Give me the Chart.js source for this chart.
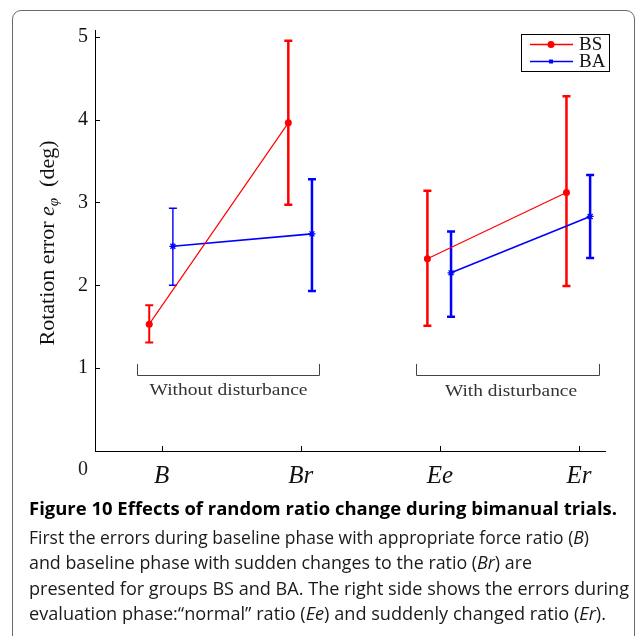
<!DOCTYPE html>
<html>
<head>
<meta charset="utf-8">
<script src="https://cdn.jsdelivr.net/npm/chart.js@4/dist/chart.umd.min.js"></script>
<style>
  html, body { margin:0; padding:0; background:#fff; }
  body { width:639px; height:636px; position:relative; overflow:hidden; }
  #frame { position:absolute; left:12px; top:10px; width:623px; height:660px; border:1.5px solid #6a6a6a; border-radius:9px; box-sizing:border-box; }
  #c { position:absolute; left:0; top:0; }
  .cap { position:absolute; left:29px; white-space:nowrap; transform-origin:0 0; color:#1a1a1a;
         font-family:"Open Sans", sans-serif; line-height:1; display:inline-block; }
  .title { font-weight:700; font-size:17px; color:#000; }
  .body { font-weight:400; font-size:18.5px; }
</style>
</head>
<body>
<div id="frame"></div>
<canvas id="c" width="639" height="636" style="width:639px;height:636px"></canvas>
<div class="cap title" data-w="588" data-base="515">Figure 10 Effects of random ratio change during bimanual trials.</div>
<div class="cap body" data-w="560" data-base="544">First the errors during baseline phase with appropriate force ratio (<i>B</i>)</div>
<div class="cap body" data-w="503" data-base="569">and baseline phase with sudden changes to the ratio (<i>Br</i>) are</div>
<div class="cap body" data-w="600" data-base="595">presented for groups BS and BA. The right side shows the errors during</div>
<div class="cap body" data-w="577" data-base="620">evaluation phase:“normal” ratio (<i>Ee</i>) and suddenly changed ratio (<i>Er</i>).</div>
<script>
// ---- data ----
const categories = ['B', 'Br', 'Ee', 'Er'];
const categoryPos = [1, 2, 3, 4];
const seriesNames = ['BS', 'BA'];
const bsMean = [1.53, 3.96, 2.32, 3.12];
const bsLow  = [1.31, 2.97, 1.51, 1.99];
const bsHigh = [1.76, 4.95, 3.14, 4.28];
const baMean = [2.47, 2.62, 2.15, 2.83];
const baLow  = [2.00, 1.93, 1.62, 2.33];
const baHigh = [2.93, 3.28, 2.65, 3.33];
const yTickValues = [1, 2, 3, 4, 5];
const groupLabels = ['Without disturbance', 'With disturbance'];
const groupSpans = [[0.82, 2.133], [2.828, 4.146]];
const groupEndIndex = 1; // no line between Br and Ee

const BS_SHIFT = -0.09, BA_SHIFT = 0.08;
const SERIF = '"Liberation Serif", "Times New Roman", serif';

function pts(mean, shift) { return mean.map((v, i) => ({ x: categoryPos[i] + shift, y: v })); }

const errorBars = {
  id: 'errorBars',
  beforeDatasetsDraw(chart) {
    const { ctx, scales: { x, y } } = chart;
    const sets = [
      { low: bsLow, high: bsHigh, shift: BS_SHIFT, color: '#ff0000', widths: [2, 2.5, 2.5, 2.5] },
      { low: baLow, high: baHigh, shift: BA_SHIFT, color: '#0000ff', widths: [1.4, 2.5, 2.5, 2.5] }
    ];
    ctx.save();
    sets.forEach(s => {
      s.low.forEach((lo, i) => {
        const px = x.getPixelForValue(categoryPos[i] + s.shift);
        const y0 = y.getPixelForValue(lo), y1 = y.getPixelForValue(s.high[i]);
        ctx.strokeStyle = s.color; ctx.lineWidth = s.widths[i]; ctx.lineCap = 'butt';
        ctx.beginPath();
        ctx.moveTo(px, y0); ctx.lineTo(px, y1);
        ctx.moveTo(px - 4, y0); ctx.lineTo(px + 4, y0);
        ctx.moveTo(px - 4, y1); ctx.lineTo(px + 4, y1);
        ctx.stroke();
      });
    });
    ctx.restore();
  }
};

function fitText(ctx, text, x, y, font, width) {
  ctx.font = font;
  const w = ctx.measureText(text).width;
  ctx.save(); ctx.translate(x, y); ctx.scale(width / w, 1);
  ctx.fillText(text, 0, 0); ctx.restore();
}

const decor = {
  id: 'decor',
  afterDraw(chart) {
    const { ctx, chartArea: a, scales: { x, y } } = chart;
    ctx.save();
    // inward tick marks
    ctx.strokeStyle = '#000'; ctx.lineWidth = 1;
    ctx.beginPath();
    categoryPos.forEach(v => { const px = Math.round(x.getPixelForValue(v)) + 0.5; ctx.moveTo(px, a.bottom); ctx.lineTo(px, a.bottom - 5); });
    yTickValues.forEach(v => { const py = Math.round(y.getPixelForValue(v)) + 0.5; ctx.moveTo(a.left, py); ctx.lineTo(a.left + 5, py); });
    ctx.stroke();
    // stray zero label
    ctx.fillStyle = '#222'; ctx.font = '20px ' + SERIF; ctx.textAlign = 'center'; ctx.textBaseline = 'middle';
    ctx.fillText('0', a.left - 12, a.bottom + 19);
    // group brackets
    ctx.strokeStyle = '#444'; ctx.lineWidth = 1;
    const yb = Math.round(y.getPixelForValue(0.917)) + 0.5, yt = y.getPixelForValue(1.05);
    const textW = [158, 132];
    groupSpans.forEach((sp, k) => {
      const x0 = Math.round(x.getPixelForValue(sp[0])) + 0.5, x1 = Math.round(x.getPixelForValue(sp[1])) + 0.5;
      ctx.beginPath(); ctx.moveTo(x0, yt); ctx.lineTo(x0, yb); ctx.lineTo(x1, yb); ctx.lineTo(x1, yt); ctx.stroke();
      ctx.fillStyle = '#333'; ctx.textAlign = 'center'; ctx.textBaseline = 'middle';
      const cx = k === 0 ? (x0 + x1) / 2 : (x0 + x1) / 2 + 3;
      fitText(ctx, groupLabels[k], cx, y.getPixelForValue(k === 0 ? 0.728 : 0.712), '17px ' + SERIF, textW[k]);
    });
    // y-axis title
    ctx.translate(47, 243); ctx.rotate(-Math.PI / 2);
    const pieces = [
      { t: 'Rotation error ', f: '22px ' + SERIF, dy: 0 },
      { t: 'e', f: 'italic 22px ' + SERIF, dy: 0 },
      { t: 'φ', f: 'italic 15px ' + SERIF, dy: 4 },
      { t: '  (deg)', f: '22px ' + SERIF, dy: 0 }
    ];
    let total = 0;
    pieces.forEach(p => { ctx.font = p.f; p.w = ctx.measureText(p.t).width; total += p.w; });
    let cx = -total / 2;
    ctx.fillStyle = '#111'; ctx.textAlign = 'left'; ctx.textBaseline = 'alphabetic';
    pieces.forEach(p => { ctx.font = p.f; ctx.fillText(p.t, cx, 7 + p.dy); cx += p.w; });
    ctx.restore();
    // legend
    ctx.save();
    ctx.strokeStyle = '#000'; ctx.lineWidth = 1;
    ctx.strokeRect(521.5, 34.5, 88, 37);
    const rows = [{ y: 44.5, c: '#ff0000' }, { y: 61.5, c: '#0000ff' }];
    rows.forEach((r, i) => {
      ctx.strokeStyle = r.c; ctx.lineWidth = 1.3;
      ctx.beginPath(); ctx.moveTo(530, r.y); ctx.lineTo(573, r.y); ctx.stroke();
      ctx.fillStyle = r.c;
      if (i === 0) { ctx.beginPath(); ctx.arc(551, r.y, 3.5, 0, Math.PI * 2); ctx.fill(); }
      else { ctx.fillRect(549, r.y - 2, 4, 4); }
      ctx.fillStyle = '#111'; ctx.font = '19px ' + SERIF; ctx.textAlign = 'left'; ctx.textBaseline = 'middle';
      ctx.fillText(seriesNames[i], 579, r.y + 1);
    });
    ctx.restore();
  }
};

const breakSegment = { borderColor: c => (c.p0DataIndex === groupEndIndex ? 'rgba(0,0,0,0)' : undefined) };

new Chart(document.getElementById('c'), {
  type: 'line',
  data: {
    datasets: [
      { label: seriesNames[0], data: pts(bsMean, BS_SHIFT), borderColor: '#ff0000', backgroundColor: '#ff0000',
        borderWidth: 1.2, pointStyle: 'circle', pointRadius: 3.5, pointBorderWidth: 0, tension: 0, segment: breakSegment },
      { label: seriesNames[1], data: pts(baMean, BA_SHIFT), borderColor: '#0000ff', backgroundColor: '#0000ff',
        borderWidth: 1.6, pointStyle: 'star', pointRadius: 3.5, pointBorderWidth: 1.3, tension: 0, segment: breakSegment }
    ]
  },
  options: {
    responsive: false, animation: false, devicePixelRatio: 1,
    layout: { padding: { left: 0, right: 34, top: 30, bottom: 0 } },
    plugins: { legend: { display: false }, tooltip: { enabled: false } },
    scales: {
      x: {
        type: 'linear', min: 0.52, max: 4.187,
        afterBuildTicks: s => { s.ticks = categoryPos.map(v => ({ value: v })); },
        afterFit: s => { s.height = 185; },
        grid: { display: false, drawTicks: false },
        border: { display: true, color: '#000', width: 1 },
        ticks: { callback: v => categories[categoryPos.indexOf(v)] ?? '', autoSkip: false, maxRotation: 0,
                 color: '#111', padding: 10, font: { family: SERIF, style: 'italic', size: 25 } }
      },
      y: {
        min: 0, max: 5.08,
        afterBuildTicks: s => { s.ticks = yTickValues.map(v => ({ value: v })); },
        afterFit: s => { s.width = 95; },
        grid: { display: false, drawTicks: false },
        border: { display: true, color: '#000', width: 1 },
        ticks: { callback: v => String(v), color: '#111', padding: 7, font: { family: SERIF, size: 20 } }
      }
    }
  },
  plugins: [errorBars, decor]
});

function fitCaption() {
  document.querySelectorAll('.cap').forEach(el => {
    const fs = parseFloat(getComputedStyle(el).fontSize);
    el.style.top = (parseFloat(el.dataset.base) - 0.888 * fs) + 'px';
    el.style.transform = 'none';
    const w = el.getBoundingClientRect().width;
    el.style.transform = 'scaleX(' + (parseFloat(el.dataset.w) / w) + ')';
  });
}
fitCaption();
if (document.fonts && document.fonts.ready) document.fonts.ready.then(fitCaption);
</script>
</body>
</html>
